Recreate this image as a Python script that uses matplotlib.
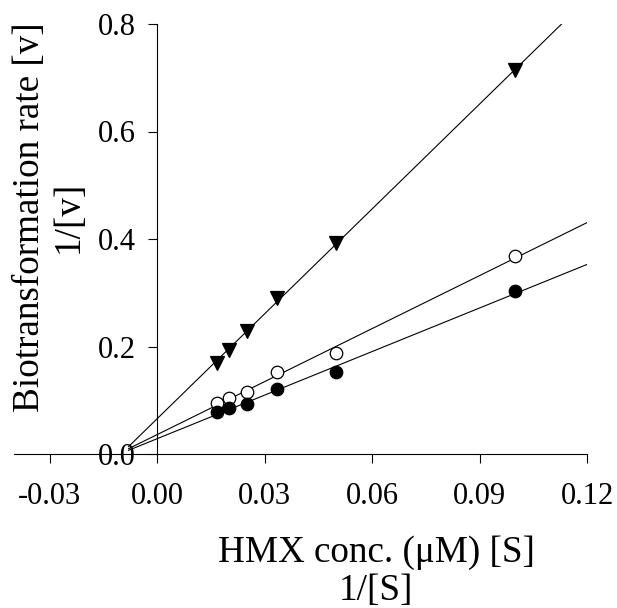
import numpy as np
import matplotlib
matplotlib.use("Agg")
import matplotlib.pyplot as plt

# 1/[S] values (1/µM) and 1/[v] for the three series
inv_s = [1 / 60, 1 / 50, 1 / 40, 1 / 30, 1 / 20, 1 / 10]
inv_v_triangle = [0.169, 0.193, 0.229, 0.291, 0.392, 0.714]
inv_v_open = [0.094, 0.104, 0.116, 0.152, 0.187, 0.369]
inv_v_filled = [0.079, 0.085, 0.093, 0.121, 0.152, 0.303]

x_ticks = [-0.03, 0.00, 0.03, 0.06, 0.09, 0.12]
y_ticks = [0.0, 0.2, 0.4, 0.6, 0.8]
line_start, line_end = -0.008, 0.12  # extent of the fitted lines

plt.rcParams["font.family"] = ["Liberation Serif", "DejaVu Serif"]

W, H = 617, 608
fig = plt.figure(figsize=(W / 100, H / 100), dpi=100)
ax = fig.add_axes([14 / W, 1 - 454 / H, 573 / W, 430 / H])

gx = np.array([line_start, line_end])
for ys, marker, face in [(inv_v_triangle, "v", "black"),
                         (inv_v_open, "o", "white"),
                         (inv_v_filled, "o", "black")]:
    slope, icpt = np.polyfit(inv_s, ys, 1)
    ax.plot(gx, icpt + slope * gx, color="black", lw=0.8, zorder=2)
    ax.plot(inv_s, ys, ls="none", marker=marker, ms=10 if marker == "v" else 9,
            mfc=face, mec="black", mew=0.9, zorder=3)

ax.set_xlim(-0.04, 0.12)
ax.set_ylim(0, 0.8)
ax.spines["top"].set_visible(False)
ax.spines["right"].set_visible(False)
ax.spines["left"].set_position(("data", 0))
for s in ("left", "bottom"):
    ax.spines[s].set_linewidth(0.8)
ax.set_xticks(x_ticks)
ax.set_xticklabels([f"{t:.2f}" for t in x_ticks])
ax.set_yticks(y_ticks)
ax.set_yticklabels([f"{t:.1f}" for t in y_ticks])
ax.tick_params(axis="both", direction="out", length=6.5, width=0.8, labelsize=22)
ax.tick_params(axis="x", pad=14)
ax.tick_params(axis="y", pad=9)

fig.text(376 / W, 1 - 572 / H, "HMX conc. (\u03bcM) [S]\n1/[S]", fontsize=26.7,
         ha="center", va="center", multialignment="center", linespacing=1.12)
fig.text(49 / W, 1 - 217 / H, "Biotransformation rate [v]\n1/[v]", fontsize=26.7,
         rotation=90, ha="center", va="center", multialignment="center",
         linespacing=1.15)

fig.savefig("out.png", dpi=100)
